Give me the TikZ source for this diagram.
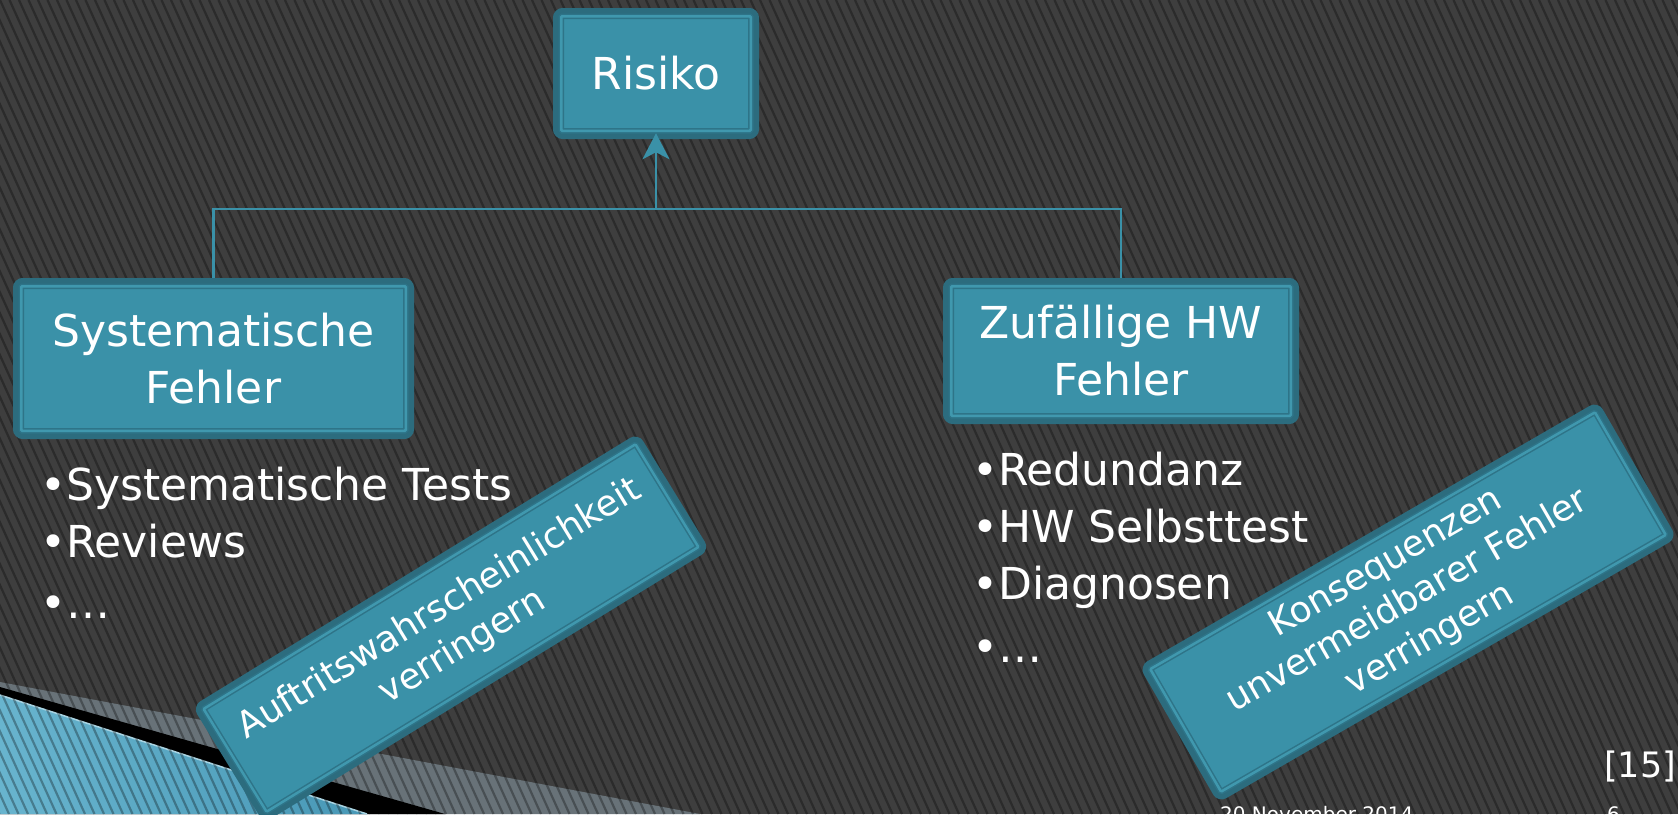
\documentclass[tikz,border=0pt]{standalone}
\usepackage{fontspec}
\setmainfont{DejaVu Sans}
\usetikzlibrary{arrows.meta}
\definecolor{slidebg}{RGB}{62,62,62}
\definecolor{boxfill}{RGB}{58,145,168}
\definecolor{boxrim}{RGB}{44,108,126}
\definecolor{boxlite}{RGB}{64,152,174}
\definecolor{boxline}{RGB}{46,116,136}
\definecolor{swgray}{RGB}{104,114,120}
\definecolor{swblue}{RGB}{72,152,182}
\definecolor{swlight}{RGB}{104,180,206}
\definecolor{swedge}{RGB}{170,212,226}
\newcommand{\bigtext}{\fontsize{44}{57}\selectfont}
\newcommand{\tilttext}{\fontsize{36}{44}\selectfont}
\newcommand{\reftext}{\fontsize{35}{40}\selectfont}
\newcommand{\foottext}{\fontsize{20}{24}\selectfont}
\tikzset{
  riskbox/.style={draw=boxline, double=boxlite, double distance=2.5pt, line width=1.5pt,
                  fill=boxfill, rounded corners=1pt,
                  preaction={draw=boxrim, line width=16.5pt, line join=round},
                  inner sep=0pt, outer sep=0pt, text=white, align=center, font=\bigtext},
  tiltbox/.style={riskbox, font=\tilttext},
  itemlist/.style={text=white, align=left, anchor=north west, inner sep=0pt, font=\bigtext},
  link/.style={draw=boxfill, line width=2.4pt},
  stripe/.style={black, opacity=0.3, line width=2.2pt},
  foot/.style={text=white, inner sep=0pt, font=\foottext},
}

\begin{document}
\begin{tikzpicture}[x=1pt, y=-1pt]
  \useasboundingbox (0,0) rectangle (1678,814);
  \clip (0,0) rectangle (1678,814);
  % background and swoosh
  \fill[slidebg] (0,0) rectangle (1678,814);
  \fill[swgray] (0,682) -- (700,814) -- (0,814) -- cycle;
  \fill[black] (0,687) -- (445,814) -- (0,814) -- cycle;
  \shade[left color=swlight, right color=swblue] (0,695) -- (367,814) -- (0,814) -- cycle;
  \draw[swedge, line width=1.5pt] (0,695) -- (367,814);
  \foreach \sx in {-380,-370.5,...,1690}
    \draw[stripe] (\sx,0) -- ++(370,814);
  % boxes
  \node[riskbox, minimum width=189.5pt, minimum height=114.5pt] (risiko) at (656,73.5) {Risiko};
  \node[riskbox, minimum width=384.5pt, minimum height=144.5pt] (sysf) at (213.5,358.5) {Systematische\\Fehler};
  \node[riskbox, minimum width=339.5pt, minimum height=129.5pt] (zufhw) at (1121,351) {Zufällige HW\\Fehler};
  % connectors
  \coordinate (junc) at (656,209);
  \draw[link, shorten <=8.25pt, shorten >=8.25pt] (sysf.north) |- (junc) -| (zufhw.north);
  \draw[link, shorten >=2.5pt, -{Stealth[length=26pt, width=27pt, inset=7pt]}] (junc) -- (risiko.south);
  % lists
  \node[itemlist] (sysitems) at (40,466.6) {•Systematische Tests\\•Reviews\\[4pt]•…};
  \node[itemlist] (hwitems) at (972,451.6) {•Redundanz\\•HW Selbsttest\\•Diagnosen\\[6pt]•…};
  % tilted boxes
  \node[tiltbox, rotate=31.5, minimum width=506.5pt, minimum height=120.5pt] (lowprob) at (451,628)
       {Auftritswahrscheinlichkeit\\verringern};
  \node[tiltbox, rotate=30, minimum width=513.5pt, minimum height=141.5pt] (lowcons) at (1408,602)
       {Konsequenzen\\unvermeidbarer Fehler\\verringern};
  % footer
  \node[foot, font=\reftext, anchor=base west] (srcref) at (1604,777) {[15]};
  \node[foot, anchor=base west] (slidedate) at (1220,821) {20 November 2014};
  \node[foot, anchor=base west] (slideno) at (1607,821) {6};
\end{tikzpicture}
\end{document}
